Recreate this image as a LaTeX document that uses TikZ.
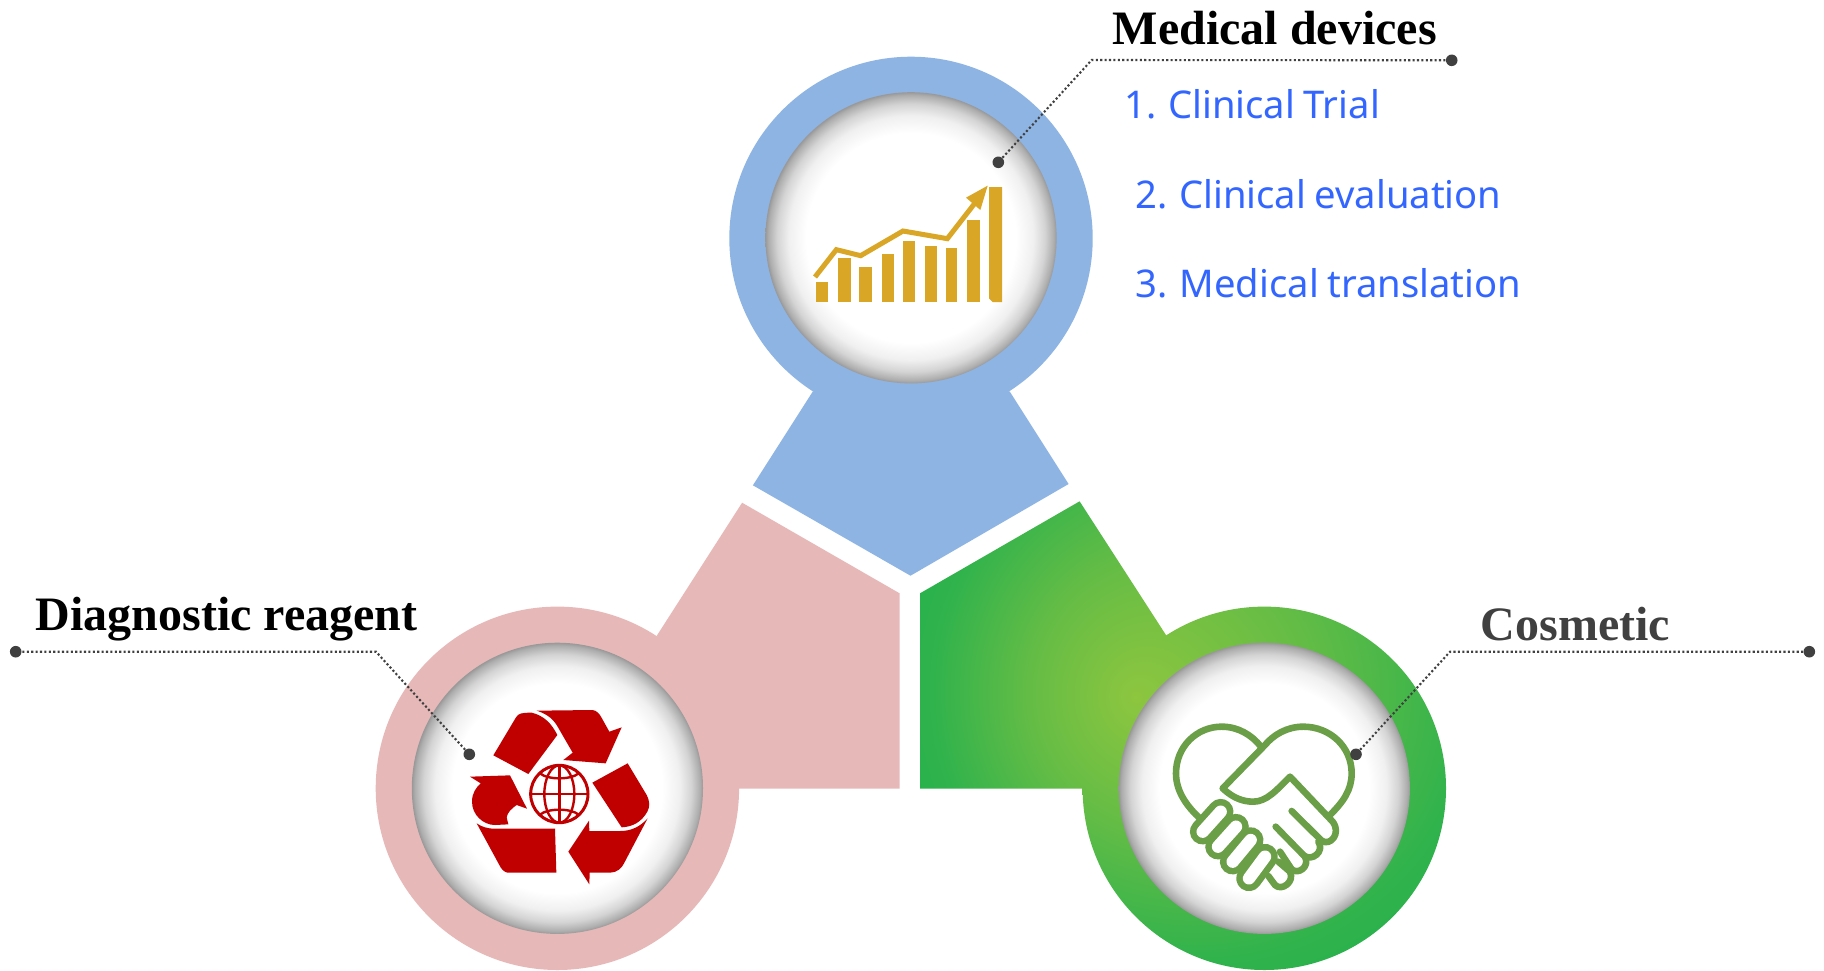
\documentclass[tikz,border=0pt]{standalone}
\usepackage{fontspec}
\setmainfont{Liberation Serif}
\newfontfamily\listfont{Noto Sans}[WordSpace=0.85]
\definecolor{ringblue}{HTML}{8EB4E3}
\definecolor{ringpink}{HTML}{E6B9B8}
\definecolor{gold}{HTML}{DAA625}
\definecolor{iconred}{HTML}{C00000}
\definecolor{icongreen}{HTML}{6A9E47}
\definecolor{listblue}{HTML}{3366FF}
\definecolor{leadgray}{HTML}{404040}
\pgfdeclareradialshading{innerwell}{\pgfpoint{0bp}{0bp}}{
 color(0bp)=(white); color(18bp)=(white); color(21bp)=(black!6); color(23bp)=(black!17); color(24.5bp)=(black!32); color(25bp)=(black!40); color(50bp)=(black!40)}
\pgfdeclareradialshading{greenglow}{\pgfpoint{-12.45bp}{-1.2bp}}{
 rgb(0bp)=(0.553,0.776,0.247); rgb(7bp)=(0.40,0.74,0.27); rgb(14bp)=(0.19,0.70,0.30); rgb(18bp)=(0.133,0.694,0.298); rgb(50bp)=(0.133,0.694,0.298)}
\tikzset{
 well/.style={shading=innerwell},
 leader/.style={draw=leadgray,line width=1.05pt,dash pattern=on 1.05pt off 1.15pt},
 leaderdot/.style={circle,fill=leadgray,draw=none,inner sep=0pt,minimum size=5.8pt},
 title/.style={anchor=base west,inner sep=0pt,font=\fontsize{24}{28}\selectfont\bfseries},
 listitem/.style={anchor=base west,inner sep=0pt,text=listblue,font=\listfont\fontsize{19.1}{24}\selectfont},
 handline/.style={draw=icongreen,line width=3.3pt,line cap=round,line join=round},
}
\begin{document}
\begin{tikzpicture}[x=0.5pt,y=-0.5pt]
\useasboundingbox (0,0) rectangle (1824,970);
\fill[white] (0,0) rectangle (1824,970);
% blue
\fill[ringblue] (812.9,391.3) -- (752.9,485.3) -- (910.5,575.7) -- (1068.6,484) -- (1009.6,391.3) -- cycle;
\fill[ringblue] (911,238.4) circle (181.7);
% pink
\fill[ringpink] (742.1,502.7) -- (899.6,593.3) -- (899.6,788.7) -- (737,788.7) -- (656.8,635.7) -- cycle;
\fill[ringpink] (557.4,788.3) circle (181.7);
% green
\begin{scope}
\clip (1079.6,501.3) -- (920,593.3) -- (920,788.7) -- (1085,788.7) -- (1166.4,635.7) -- cycle;
\shade[shading=greenglow] (1374,674) circle (480);
\end{scope}
\begin{scope}
\clip (1264.3,788.3) circle (181.7);
\shade[shading=greenglow] (1374,674) circle (480);
\end{scope}
% wells
\shade[well] (911,237.8) circle (145.6);
\shade[well] (557.4,788.3) circle (145.6);
\shade[well] (1264.3,788.3) circle (145.6);
% chart icon
\begin{scope}[shift={(720,40)},scale=0.33333]
\fill[gold] (287,727) rectangle (325,786);
\fill[gold] (353,655) rectangle (393,786);
\fill[gold] (417,680) rectangle (455,786);
\fill[gold] (485,643) rectangle (523,786);
\fill[gold] (549,603) rectangle (586,786);
\fill[gold] (616,618) rectangle (652,786);
\fill[gold] (679,625) rectangle (712,786);
\fill[gold] (742,540) rectangle (779,786);
\fill[gold] (807,441) -- (846,441) -- (846,786) -- (818,786) -- (807,775) -- cycle;
\draw[gold,line width=2.5pt,line join=miter] (285,711) -- (349,629) -- (422,647) -- (549,573) -- (682,596) -- (772,480);
\fill[gold] (803,437) -- (738,473) -- (781,510) -- cycle;
\end{scope}
% recycle icon
\begin{scope}[shift={(400,630)},scale=0.33333]
\fill[iconred] (280,376) -- (348,262) .. controls (355,250) and (365,248) .. (395,248) .. controls (430,256) and (455,280) .. (472,315) -- (385,432) -- cycle;
\fill[iconred] (410,242) -- (578,240) .. controls (590,242) and (597,250) .. (603,260) -- (628,305) -- (665,292) -- (617,400) -- (490,390) -- (518,368) -- (470,285) .. controls (455,262) and (435,250) .. (410,242) -- cycle;
\fill[iconred] (577,458) -- (683,400) -- (740,495) .. controls (750,515) and (750,530) .. (742,545) .. controls (725,575) and (700,590) .. (665,592) -- cycle;
\fill[iconred] (743,565) .. controls (720,590) and (695,603) .. (660,603) -- (568,603) -- (567,572) -- (505,665) -- (568,763) -- (569,728) -- (630,728) .. controls (650,728) and (665,715) .. (672,700) -- cycle;
\fill[iconred] (230,580) .. controls (245,590) and (260,596) .. (285,596) -- (465,596) -- (469,728) -- (322,728) .. controls (310,725) and (303,715) .. (298,705) -- cycle;
\fill[iconred] (210,440) -- (330,436) -- (381,536) -- (350,525) .. controls (335,535) and (322,548) .. (320,562) -- (325,583) -- (285,585) .. controls (250,585) and (216,555) .. (216,515) .. controls (216,490) and (228,472) .. (242,460) -- cycle;
\begin{scope}[shift={(478,492)},draw=iconred,line width=1.2pt]
\draw[line width=1.5pt] (0,0) circle (86);
\draw (0,-86) -- (0,86);
\draw (-86,0) -- (86,0);
\draw (0,0) ellipse (45 and 86);
\draw (-58,-62) .. controls (-35,-42) and (35,-42) .. (58,-62);
\draw (-58,62) .. controls (-35,42) and (35,42) .. (58,62);
\end{scope}
\end{scope}
% handshake icon
\begin{scope}[shift={(1100,630)},scale=0.33333]
\draw[handline] (305,570) .. controls (255,525) and (228,480) .. (228,430) .. controls (228,350) and (290,290) .. (365,290) .. controls (415,290) and (455,315) .. (483,350);
\draw[handline] (690,555) .. controls (730,515) and (755,480) .. (755,430) .. controls (755,350) and (690,290) .. (610,290) .. controls (560,290) and (520,315) .. (495,345) -- (368,475) .. controls (400,505) and (430,515) .. (460,515) .. controls (500,515) and (530,480) .. (570,440) -- (698,575) .. controls (725,610) and (690,650) .. (665,632) -- (575,543);
\draw[handline] (527,590) -- (612,677) .. controls (635,695) and (675,665) .. (655,635);
\draw[handline] (540,665) -- (575,718) .. controls (595,735) and (630,710) .. (615,680);
\draw[handline] (505,738) -- (525,765) .. controls (545,785) and (585,755) .. (570,725) -- (535,695);
\foreach \a/\b/\c/\d in {362/545/308/605,408/590/354/650,452/630/398/695,495/680/447/745}{
 \draw[icongreen,line width=12.8pt,line cap=round] (\a,\b) -- (\c,\d);
}
\foreach \a/\b/\c/\d in {362/545/308/605,408/590/354/650,452/630/398/695,495/680/447/745}{
 \draw[white,line width=6.2pt,line cap=round] (\a,\b) -- (\c,\d);
}
\end{scope}
% leaders
\node[leaderdot] (dotA) at (998.3,162.3) {};
\coordinate (bendA) at (1091.7,60);
\node[leaderdot] (endA) at (1451.7,60.3) {};
\draw[leader] (dotA) -- (bendA) -- (endA);
\node[leaderdot] (dotB) at (469.3,754.3) {};
\coordinate (bendB) at (376,651.7);
\node[leaderdot] (endB) at (15.7,651.7) {};
\draw[leader] (dotB) -- (bendB) -- (endB);
\node[leaderdot] (dotC) at (1356,754.3) {};
\coordinate (bendC) at (1450,651.7);
\node[leaderdot] (endC) at (1809.3,651.7) {};
\draw[leader] (dotC) -- (bendC) -- (endC);
% text
\node[title] (tA) at (1112.5,44) {Medical devices};
\node[title] (tB) at (35.5,630) {Diagnostic reagent};
\node[title,text=leadgray] (tC) at (1480.5,640) {Cosmetic};
\node[listitem] (l1) at (1124,118.3) {1. Clinical Trial};
\node[listitem] (l2) at (1135,208.3) {2. Clinical evaluation};
\node[listitem] (l3) at (1135.5,297.3) {3. Medical translation};
\end{tikzpicture}
\end{document}
